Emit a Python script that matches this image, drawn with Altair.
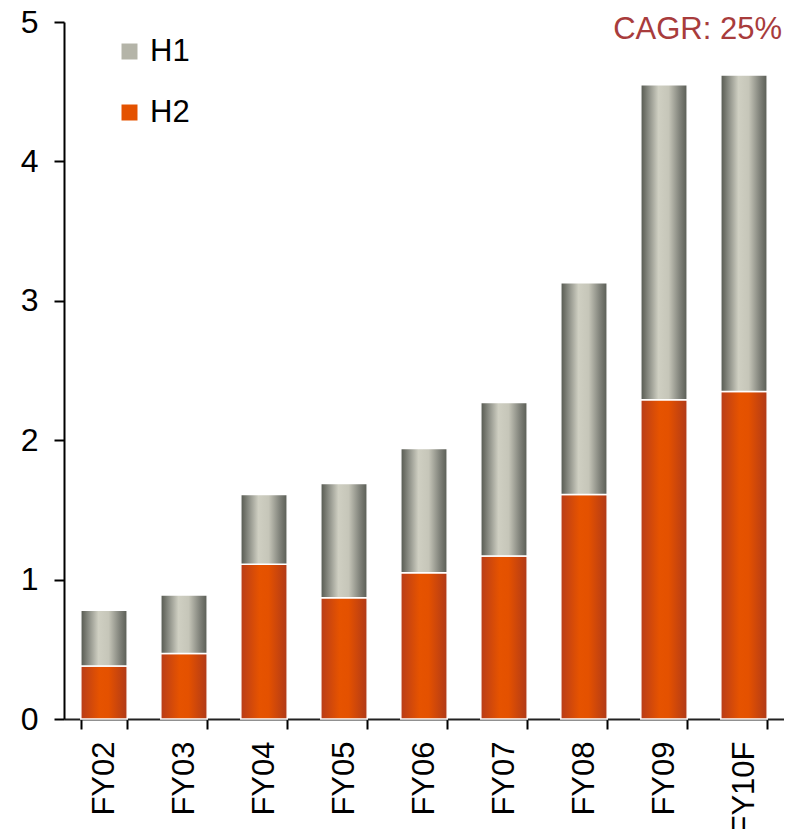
import altair as alt
import pandas as pd

categories = ["FY02", "FY03", "FY04", "FY05", "FY06", "FY07", "FY08", "FY09", "FY10F"]
h2_values = [0.38, 0.47, 1.11, 0.87, 1.05, 1.17, 1.61, 2.29, 2.35]
h1_values = [0.40, 0.42, 0.50, 0.82, 0.89, 1.10, 1.52, 2.26, 2.27]
series_names = ["H1", "H2"]
series_colors = ["#b4b4a8", "#e45200"]
cagr_text = "CAGR: 25%"

wide = pd.DataFrame({"cat": categories, "H2": h2_values, "H1": h1_values})
wide["total"] = wide["H2"] + wide["H1"]
long = pd.DataFrame(
    [{"cat": c, "series": "H2", "value": v, "order": 0} for c, v in zip(categories, h2_values)]
    + [{"cat": c, "series": "H1", "value": v, "order": 1} for c, v in zip(categories, h1_values)]
)

FONT = "Liberation Sans"

x_enc = alt.X(
    "cat:N", sort=categories, title=None,
    scale=alt.Scale(paddingInner=0.42, paddingOuter=0.21),
    axis=alt.Axis(labelAngle=-90, labelFontSize=31, labelFont=FONT, labelColor="black",
                  tickBand="extent", tickSize=10, tickWidth=2, tickColor="black",
                  domainColor="#222222", domainWidth=2, labelPadding=12, labelAlign="right",
                  labelBaseline="middle"),
)
y_scale = alt.Scale(domain=[0, 5], nice=False)
y_axis = alt.Axis(values=[0, 1, 2, 3, 4, 5], format="d", labelFontSize=32, labelFont=FONT,
                  labelColor="black", tickSize=10, tickWidth=2, tickColor="black",
                  domainColor="black", domainWidth=2, grid=False, labelPadding=16, title=None)

# base stacked bars: carry the legend
base = alt.Chart(long).mark_bar().encode(
    x=x_enc,
    y=alt.Y("value:Q", stack="zero", scale=y_scale, axis=y_axis),
    color=alt.Color("series:N", scale=alt.Scale(domain=series_names, range=series_colors),
                    legend=alt.Legend(title=None, orient="none", legendX=50, legendY=14,
                                      symbolType="square", symbolSize=256, symbolStrokeWidth=0,
                                      labelFontSize=31, labelFont=FONT, labelColor="black",
                                      labelOffset=5, rowPadding=29, direction="vertical")),
    order=alt.Order("order:Q"),
)

gray_grad = alt.Gradient(
    gradient="linear", x1=0, x2=1, y1=0, y2=0,
    stops=[
        alt.GradientStop(offset=0, color="#55584f"),
        alt.GradientStop(offset=0.18, color="#8f9188"),
        alt.GradientStop(offset=0.38, color="#cfcfc2"),
        alt.GradientStop(offset=0.6, color="#c6c6b9"),
        alt.GradientStop(offset=0.85, color="#7e8078"),
        alt.GradientStop(offset=1, color="#595c54"),
    ],
)
orange_grad = alt.Gradient(
    gradient="linear", x1=0, x2=1, y1=0, y2=0,
    stops=[
        alt.GradientStop(offset=0, color="#b83c18"),
        alt.GradientStop(offset=0.4, color="#e65300"),
        alt.GradientStop(offset=0.6, color="#e45100"),
        alt.GradientStop(offset=1, color="#b03a18"),
    ],
)

h2_layer = alt.Chart(wide).mark_bar(fill=orange_grad, stroke="white", strokeWidth=1.5).encode(
    x=alt.X("cat:N", sort=categories),
    y=alt.Y("H2:Q", scale=y_scale),
    y2=alt.datum(0),
)
h1_layer = alt.Chart(wide).mark_bar(fill=gray_grad, stroke="white", strokeWidth=1.5).encode(
    x=alt.X("cat:N", sort=categories),
    y=alt.Y("total:Q", scale=y_scale),
    y2="H2:Q",
)

cagr = alt.Chart(pd.DataFrame({"t": [cagr_text]})).mark_text(
    align="right", baseline="alphabetic", fontSize=31, font=FONT, color="#a83c3c"
).encode(text="t:N", x=alt.value(718), y=alt.value(17))

chart = alt.layer(base, h2_layer, h1_layer, cagr).properties(
    width=720, height=697,
    autosize=alt.AutoSizeParams(type="none"),
    padding={"left": 56, "top": 14, "right": 0, "bottom": 110},
).configure_view(stroke=None)

chart.save("out.html", embed_options={"renderer": "svg", "actions": False})
